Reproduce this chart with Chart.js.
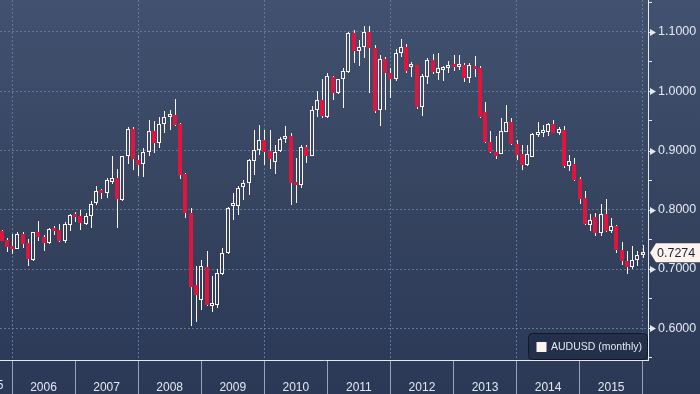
<!DOCTYPE html>
<html lang="en">
<head>
    <meta charset="UTF-8">
    <title>AUDUSD (monthly)</title>
    <script src="https://cdn.jsdelivr.net/npm/chart.js"></script>
    <style>
        html, body { margin: 0; padding: 0; background: #2d3a57; }
        #wrap { width: 700px; height: 394px; }
    </style>
</head>
<body>
    <div id="wrap"><canvas id="fxChart" width="700" height="394"></canvas></div>

    <script>
        // Monthly candles, Oct 2005 -> Dec 2015 (index 0 = Oct 2005)
        const seriesName = 'AUDUSD (monthly)';
        const years = ['2005', '2006', '2007', '2008', '2009', '2010', '2011', '2012', '2013', '2014', '2015'];
        const yTicks = [0.55, 0.60, 0.65, 0.70, 0.75, 0.80, 0.85, 0.90, 0.95, 1.00, 1.05, 1.10, 1.15];

        const open = [
            0.7650, 0.7490, 0.7390,
            0.7340, 0.7595, 0.7440, 0.7157, 0.7617, 0.7540, 0.7440, 0.7680, 0.7660, 0.7466, 0.7750, 0.7904,
            0.7900, 0.7764, 0.7900, 0.8110, 0.8310, 0.8290, 0.8477, 0.8534, 0.8163, 0.8900, 0.9360, 0.8843,
            0.8770, 0.8972, 0.9331, 0.9134, 0.9444, 0.9570, 0.9600, 0.9450, 0.8607, 0.7944, 0.6736, 0.6480,
            0.7034, 0.6377, 0.6387, 0.6920, 0.7270, 0.8067, 0.8072, 0.8380, 0.8450, 0.8830, 0.9010, 0.9180,
            0.8994, 0.8804, 0.8994, 0.9190, 0.9252, 0.8467, 0.8410, 0.9057, 0.8915, 0.9685, 0.9850, 0.9573,
            1.0236, 0.9977, 1.0200, 1.0331, 1.0977, 1.0685, 1.0742, 1.1005, 1.0725, 0.9685, 1.0540, 1.0304,
            1.0208, 1.0640, 1.0742, 1.0405, 1.0444, 0.9740, 1.0236, 1.0528, 1.0304, 1.0360, 1.0388, 1.0432,
            1.0405, 1.0444, 1.0230, 1.0427, 1.0388, 0.9657, 0.9140, 0.8983, 0.8944, 0.9320, 0.9478, 0.9110,
            0.8944, 0.8758, 0.8899, 0.9264, 0.9300, 0.9320, 0.9449, 0.9303, 0.9348, 0.8747, 0.8775, 0.8522,
            0.8207, 0.7735, 0.7876, 0.7607, 0.7933, 0.7650, 0.7730, 0.7326, 0.7140, 0.7027, 0.7146, 0.7230
        ];
        const high = [
            0.7663, 0.7520, 0.7590,
            0.7620, 0.7620, 0.7506, 0.7630, 0.7810, 0.7580, 0.7700, 0.7730, 0.7765, 0.7790, 0.7930, 0.7955,
            0.8000, 0.7950, 0.8150, 0.8404, 0.8350, 0.8540, 0.8900, 0.8690, 0.8910, 0.9390, 0.9404, 0.8927,
            0.9040, 0.9517, 0.9506, 0.9570, 0.9668, 0.9685, 0.9870, 0.9460, 0.8620, 0.8030, 0.7044, 0.7157,
            0.7297, 0.6876, 0.7000, 0.7350, 0.8040, 0.8280, 0.8393, 0.8506, 0.8860, 0.9350, 0.9433, 0.9350,
            0.9350, 0.9095, 0.9230, 0.9416, 0.9300, 0.8870, 0.9095, 0.9095, 0.9752, 1.0000, 1.0203, 1.0300,
            1.0258, 1.0210, 1.0388, 1.1000, 1.1034, 1.0865, 1.1100, 1.1100, 1.0780, 1.0612, 1.0584, 1.0388,
            1.0708, 1.0877, 1.0800, 1.0500, 1.0444, 1.0287, 1.0567, 1.0630, 1.0652, 1.0427, 1.0510, 1.0607,
            1.0607, 1.0470, 1.0480, 1.0595, 1.0420, 0.9826, 0.9331, 0.9247, 0.9545, 0.9770, 0.9545, 0.9180,
            0.9095, 0.9095, 0.9304, 0.9478, 0.9433, 0.9466, 0.9517, 0.9405, 0.9416, 0.8927, 0.8880, 0.8560,
            0.8320, 0.7933, 0.7944, 0.8100, 0.8185, 0.7860, 0.7750, 0.7456, 0.7297, 0.7393, 0.7310, 0.7410
        ];
        const low = [
            0.7466, 0.7280, 0.7260,
            0.7330, 0.7350, 0.7050, 0.7140, 0.7480, 0.7300, 0.7430, 0.7580, 0.7450, 0.7440, 0.7634, 0.7800,
            0.7660, 0.7740, 0.7700, 0.8084, 0.8190, 0.8196, 0.8430, 0.7700, 0.8150, 0.8780, 0.8674, 0.8578,
            0.8550, 0.8900, 0.8966, 0.9040, 0.9290, 0.9350, 0.9416, 0.8514, 0.7867, 0.6033, 0.6100, 0.6314,
            0.6370, 0.6270, 0.6337, 0.6900, 0.7260, 0.7820, 0.7908, 0.8168, 0.8250, 0.8590, 0.8927, 0.8760,
            0.8686, 0.8607, 0.8970, 0.9124, 0.8084, 0.8113, 0.8370, 0.8787, 0.8900, 0.9570, 0.9557, 0.9550,
            0.9846, 0.9960, 0.9724, 1.0310, 1.0470, 1.0427, 1.0557, 0.9967, 0.9640, 0.9416, 0.9685, 0.9893,
            1.0180, 1.0584, 1.0300, 1.0247, 0.9707, 0.9580, 1.0124, 1.0292, 1.0190, 1.0180, 1.0300, 1.0348,
            1.0360, 1.0150, 1.0146, 1.0247, 0.9545, 0.9124, 0.8955, 0.8854, 0.8944, 0.9310, 0.9090, 0.8843,
            0.8674, 0.8747, 0.8888, 0.9236, 0.9236, 0.9242, 0.9290, 0.9264, 0.8700, 0.8657, 0.8494, 0.8100,
            0.7747, 0.7650, 0.7562, 0.7550, 0.7624, 0.7607, 0.7273, 0.7073, 0.6921, 0.7000, 0.7045, 0.7186
        ];
        const close = [
            0.7480, 0.7380, 0.7340,
            0.7595, 0.7430, 0.7174, 0.7617, 0.7533, 0.7440, 0.7680, 0.7645, 0.7466, 0.7764, 0.7916, 0.7877,
            0.7776, 0.7887, 0.8100, 0.8310, 0.8287, 0.8500, 0.8534, 0.8185, 0.8900, 0.9365, 0.8855, 0.8758,
            0.8972, 0.9331, 0.9134, 0.9444, 0.9573, 0.9600, 0.9433, 0.8580, 0.7944, 0.6690, 0.6556, 0.7044,
            0.6387, 0.6415, 0.6933, 0.7270, 0.8028, 0.8090, 0.8365, 0.8450, 0.8843, 0.9011, 0.9180, 0.8983,
            0.8855, 0.8972, 0.9190, 0.9252, 0.8460, 0.8410, 0.9057, 0.8915, 0.9685, 0.9850, 0.9580, 1.0258,
            0.9977, 1.0208, 1.0343, 1.0977, 1.0685, 1.0742, 1.1005, 1.0725, 0.9674, 1.0540, 1.0304, 1.0208,
            1.0650, 1.0753, 1.0343, 1.0435, 0.9730, 1.0258, 1.0528, 1.0330, 1.0388, 1.0388, 1.0432, 1.0405,
            1.0444, 1.0230, 1.0444, 1.0376, 0.9562, 0.9140, 0.8983, 0.8910, 0.9331, 0.9478, 0.9110, 0.8927,
            0.8758, 0.8944, 0.9280, 0.9320, 0.9336, 0.9449, 0.9303, 0.9365, 0.8742, 0.8826, 0.8505, 0.8185,
            0.7764, 0.7831, 0.7607, 0.7933, 0.7650, 0.7730, 0.7314, 0.7129, 0.7027, 0.7157, 0.7241, 0.7274
        ];

        const upColor = '#fbf5f1';
        const downColor = '#e0143c';
        const axisColor = '#e4e9f0';
        const gridColor = 'rgba(96, 132, 160, 0.85)';
        const textColor = '#e3e9f1';
        const fontFamily = '"Liberation Sans", Arial, sans-serif';

        const isDown = k => close[k] < open[k];
        const isMajor = v => Math.round(v * 100) % 10 === 0;

        const bodies = open.map((o, k) => ({ x: k, y: [o, close[k]] }));
        const upperWicks = open.map((o, k) => ({ x: k, y: [Math.max(o, close[k]), high[k]] }));
        const lowerWicks = open.map((o, k) => ({ x: k, y: [low[k], Math.min(o, close[k])] }));

        // Banded navy backdrop behind everything
        const backdrop = {
            id: 'backdrop',
            beforeDraw(chart) {
                const { ctx, width, height } = chart;
                const g = ctx.createLinearGradient(0, 0, 0, height);
                g.addColorStop(0, '#425170');
                g.addColorStop(0.12, '#3f4e6b');
                g.addColorStop(0.5, '#364460');
                g.addColorStop(1, '#2b3856');
                ctx.save();
                ctx.fillStyle = g;
                ctx.fillRect(0, 0, width, height);
                ctx.restore();
            }
        };

        // Snap candle pieces to whole pixels so the thin lines stay crisp
        const snap = {
            id: 'snap',
            beforeDatasetsDraw(chart) {
                chart.data.datasets.forEach((ds, d) => {
                    chart.getDatasetMeta(d).data.forEach(el => {
                        const cx = Math.round(el.x);
                        el.x = ds.barThickness === 1 ? cx + 0.5 : cx;
                        el.y = Math.round(el.y);
                        el.base = Math.round(el.base);
                    });
                });
            }
        };

        // Axis markers, last price tag and legend box
        const extras = {
            id: 'extras',
            afterDraw(chart) {
                const { ctx, chartArea, scales: { x, y } } = chart;
                const right = chartArea.right;
                ctx.save();

                ctx.fillStyle = axisColor;
                yTicks.filter(isMajor).forEach(v => {
                    const py = Math.round(y.getPixelForValue(v)) + 0.5;
                    ctx.fillRect(right, py - 0.5, 3, 1);
                    ctx.beginPath();
                    ctx.moveTo(right + 2, py - 3.5);
                    ctx.lineTo(right + 8, py);
                    ctx.lineTo(right + 2, py + 3.5);
                    ctx.closePath();
                    ctx.fill();
                });

                // clipped label of the first year
                ctx.font = '12px ' + fontFamily;
                ctx.fillStyle = textColor;
                ctx.textAlign = 'right';
                ctx.textBaseline = 'middle';
                ctx.fillText(years[0], x.getPixelForValue(-4) + 23, chartArea.bottom + 26);

                // last price tag
                const last = close[close.length - 1];
                const py = y.getPixelForValue(last);
                ctx.beginPath();
                ctx.moveTo(right + 2, py);
                ctx.lineTo(right + 8, py - 9.5);
                ctx.lineTo(chart.width, py - 9.5);
                ctx.lineTo(chart.width, py + 9.5);
                ctx.lineTo(right + 8, py + 9.5);
                ctx.closePath();
                ctx.fillStyle = '#fdf3ec';
                ctx.fill();
                ctx.fillStyle = '#17213a';
                ctx.font = '12.5px ' + fontFamily;
                ctx.textAlign = 'left';
                ctx.fillText(last.toFixed(4), right + 9, py + 0.5);

                // legend
                const bx = right - 119.5, by = chartArea.bottom - 26.5;
                ctx.beginPath();
                ctx.roundRect(bx, by, 119, 26, 4);
                ctx.fillStyle = '#243049';
                ctx.fill();
                ctx.strokeStyle = '#10172a';
                ctx.lineWidth = 1;
                ctx.stroke();
                ctx.fillStyle = upColor;
                ctx.fillRect(bx + 8, by + 8.5, 10, 10);
                ctx.fillStyle = textColor;
                ctx.font = '10.5px ' + fontFamily;
                ctx.fillText(seriesName, bx + 22.5, by + 14);

                ctx.restore();
            }
        };

        const barBase = { type: 'bar', grouped: false, borderSkipped: false, inflateAmount: 0 };

        new Chart(document.getElementById('fxChart'), {
            type: 'bar',
            data: {
                datasets: [
                    {
                        ...barBase,
                        label: seriesName,
                        data: bodies,
                        barThickness: 4,
                        minBarLength: 3,
                        backgroundColor: c => isDown(c.dataIndex) ? downColor : 'rgba(0,0,0,0)',
                        borderColor: c => isDown(c.dataIndex) ? downColor : upColor,
                        borderWidth: c => isDown(c.dataIndex) ? 0 : 1
                    },
                    { ...barBase, label: 'hi', data: upperWicks, barThickness: 1, backgroundColor: upColor, borderWidth: 0 },
                    { ...barBase, label: 'lo', data: lowerWicks, barThickness: 1, backgroundColor: upColor, borderWidth: 0 }
                ]
            },
            options: {
                responsive: false,
                animation: false,
                events: [],
                layout: { padding: 0 },
                plugins: {
                    legend: { display: false },
                    tooltip: { enabled: false }
                },
                scales: {
                    x: {
                        type: 'linear',
                        position: 'bottom',
                        min: -0.29,
                        max: 123.0,
                        offset: false,
                        afterBuildTicks: s => {
                            s.ticks = years.map((yr, n) => ({ value: 2 + 12 * n }));
                        },
                        afterFit: s => {
                            s.height = 34;
                            s.paddingLeft = 0;
                            s.paddingRight = 0;
                        },
                        ticks: {
                            autoSkip: false,
                            maxRotation: 0,
                            minRotation: 0,
                            labelOffset: 31.5,
                            padding: -14,
                            color: textColor,
                            font: { family: fontFamily, size: 12 },
                            callback: (v, i) => years[i + 1] || ''
                        },
                        grid: {
                            offset: false,
                            color: c => c.index % 2 === 0 ? gridColor : 'rgba(0,0,0,0)',
                            tickColor: '#9aa3b4',
                            tickLength: 34,
                            lineWidth: 1
                        },
                        border: { color: axisColor, width: 1, dash: [2, 2] }
                    },
                    y: {
                        type: 'linear',
                        position: 'right',
                        min: 0.5465,
                        max: 1.154,
                        afterBuildTicks: s => {
                            s.ticks = yTicks.map(v => ({ value: v }));
                        },
                        afterFit: s => {
                            s.width = 52;
                            s.paddingTop = 0;
                            s.paddingBottom = 0;
                        },
                        ticks: {
                            padding: 6,
                            color: textColor,
                            font: { family: fontFamily, size: 12.5 },
                            callback: v => isMajor(v) ? v.toFixed(4) : ''
                        },
                        grid: {
                            color: c => isMajor(c.tick.value) ? gridColor : 'rgba(0,0,0,0)',
                            tickColor: c => isMajor(c.tick.value) ? 'rgba(0,0,0,0)' : axisColor,
                            tickLength: 4,
                            lineWidth: 1
                        },
                        border: { color: axisColor, width: 1, dash: [2, 2] }
                    }
                }
            },
            plugins: [backdrop, snap, extras]
        });
    </script>
</body>
</html>
